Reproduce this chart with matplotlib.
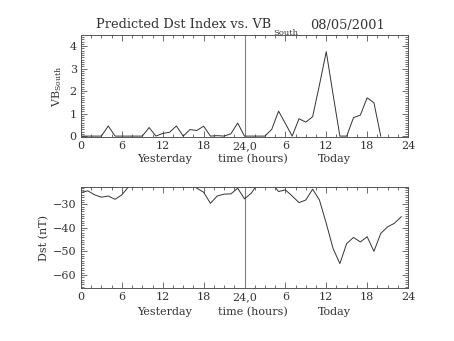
import matplotlib
matplotlib.use("Agg")
import matplotlib.pyplot as plt
from matplotlib.ticker import MultipleLocator, FixedLocator, FixedFormatter
import matplotlib.transforms as mtransforms

plt.rcParams['font.family'] = ['DejaVu Serif']
plt.rcParams['mathtext.fontset'] = 'dejavuserif'

# hours since start of yesterday
vb_hours = list(range(0, 45))
vb_values = [0, 0, 0, 0, 0.45, 0, 0, 0, 0, 0,
             0.38, 0, 0.12, 0.17, 0.45, 0, 0.29, 0.25, 0.44, 0,
             0.02, 0, 0.1, 0.58, 0, 0, 0, 0, 0.3, 1.11,
             0.56, 0, 0.77, 0.62, 0.86, 2.27, 3.75, 1.85, 0, 0,
             0.82, 0.93, 1.7, 1.48, 0]

dst_hours = list(range(0, 48))
dst_values = [-25.0, -24.3, -26.0, -27.0, -26.5, -27.9, -26.0, -22.5, -21, -21,
              -21, -21, -21, -21, -21, -21, -21, -23.2, -24.9, -29.6,
              -26.5, -25.7, -25.6, -23.2, -27.7, -25.3, -21, -21, -21, -24.6,
              -23.9, -26.5, -29.3, -28.2, -23.6, -28.2, -38.1, -48.8, -55.2, -46.7,
              -44.1, -46.0, -43.8, -50.0, -42.4, -39.6, -38.1, -35.3]

x_tick_pos = [0, 6, 12, 18, 24, 30, 36, 42, 48]
x_tick_labels = ['0', '6', '12', '18', '24,0', '6', '12', '18', '24']
vb_ticks = [0, 1, 2, 3, 4]
dst_ticks = [-30, -40, -50, -60]

W, H = 454, 341
fig = plt.figure(figsize=(W / 100, H / 100), dpi=100)

def frac(l, t, r, b):
    return [l / W, 1 - b / H, (r - l) / W, (b - t) / H]

ax1 = fig.add_axes(frac(81, 35, 408, 137))
ax2 = fig.add_axes(frac(81, 187.3, 408, 288.3))

lc = '#333333'
ac = '#555555'
tc = '#333333'
fs = 8

for ax in (ax1, ax2):
    ax.set_xlim(0, 48)
    ax.xaxis.set_major_locator(FixedLocator(x_tick_pos))
    ax.xaxis.set_major_formatter(FixedFormatter(x_tick_labels))
    ax.xaxis.set_minor_locator(MultipleLocator(1.5))
    ax.tick_params(which='both', direction='in', top=True, right=True,
                   color=ac, width=0.6, labelsize=fs, labelcolor=tc)
    ax.tick_params(which='major', length=4, pad=3)
    ax.tick_params(which='minor', length=2)
    ax.axvline(24, color='#808080', lw=0.8)
    for s in ax.spines.values():
        s.set_color(ac)
        s.set_linewidth(0.7)

ax1.plot(vb_hours, vb_values, color=lc, lw=0.7)
ax1.set_ylim(-0.04, 4.49)
ax1.yaxis.set_major_locator(FixedLocator(vb_ticks))
ax1.yaxis.set_minor_locator(MultipleLocator(0.1))
ax1.set_ylabel('VB$_{\\rm South}$', fontsize=fs, labelpad=4, color=tc)

ax2.plot(dst_hours, dst_values, color=lc, lw=0.7)
ax2.set_ylim(-65.7, -22.8)
ax2.yaxis.set_major_locator(FixedLocator(dst_ticks))
ax2.yaxis.set_minor_locator(MultipleLocator(1))
ax2.set_ylabel('Dst (nT)', fontsize=fs, labelpad=3, color=tc)

for ax, yoff in ((ax1, -0.216), (ax2, -0.235)):
    tr = mtransforms.blended_transform_factory(ax.transData, ax.transAxes)
    ax.text(12.3, yoff, 'Yesterday', transform=tr, ha='center', va='center', fontsize=fs, color=tc)
    ax.text(25.3, yoff, 'time (hours)', transform=tr, ha='center', va='center', fontsize=fs, color=tc)
    ax.text(37.2, yoff, 'Today', transform=tr, ha='center', va='center', fontsize=fs, color=tc)

fig.text(271.5 / W, 1 - 25 / H, 'Predicted Dst Index vs. VB',
         ha='right', va='center', fontsize=9.3, color=tc)
fig.text(273 / W, 1 - 33 / H, 'South',
         ha='left', va='center', fontsize=6, color=tc)
fig.text(310 / W, 1 - 25 / H, '08/05/2001',
         ha='left', va='center', fontsize=9.3, color=tc)

fig.savefig('out.png', dpi=100)
